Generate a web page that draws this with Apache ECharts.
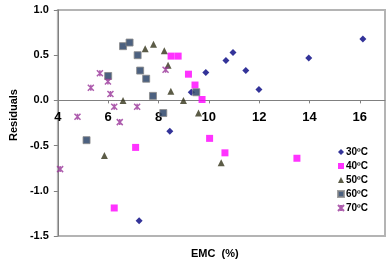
<!DOCTYPE html>
<html>
<head>
<meta charset="utf-8">
<script src="https://cdn.jsdelivr.net/npm/echarts@6/dist/echarts.min.js"></script>
<style>
    html, body { margin: 0; padding: 0; background: #fff; }
    #chart { width: 387px; height: 263px; }
</style>
</head>
<body>
<div id="chart"></div>
<script>
// residuals vs EMC, one list per temperature
const t30 = [[9.3, 0.09], [9.88, 0.31], [10.68, 0.44], [10.96, 0.53], [11.47, 0.33], [11.99, 0.12],
    [13.97, 0.47], [16.12, 0.68], [8.45, -0.34], [7.23, -1.33]]
const t40 = [[8.5, 0.49], [8.78, 0.49], [9.19, 0.29], [9.45, 0.17], [9.73, 0.01], [7.09, -0.52],
    [6.24, -1.19], [10.03, -0.42], [10.64, -0.58], [13.5, -0.64]]
const t50 = [[7.47, 0.57], [7.8, 0.62], [8.23, 0.55], [8.38, 0.39], [8.49, 0.1], [8.99, 0.0],
    [6.59, 0.0], [9.59, -0.14], [5.85, -0.61], [10.49, -0.69]]
const t60 = [[6.59, 0.6], [6.85, 0.64], [7.17, 0.5], [7.27, 0.33], [7.51, 0.24], [7.78, 0.05],
    [6.0, 0.27], [8.19, -0.14], [9.5, 0.09], [5.14, -0.44]]
const t70 = [[5.67, 0.3], [5.31, 0.14], [5.99, 0.21], [6.09, 0.07], [6.24, -0.07], [6.46, -0.24],
    [7.15, -0.07], [8.28, 0.34], [4.78, -0.18], [4.09, -0.76]]
const seriesNames = ['30ºC', '40ºC', '50ºC', '60ºC', '70ºC']

const font = 'Arial, "Liberation Sans", sans-serif'
const star = 'path://M0,0L10,10M10,0L0,10M5,0L5,10'

let myChart = echarts.init(document.getElementById('chart'))

function scatter(name, data, symbol, size, style) {
    return { name: name, type: 'scatter', data: data, symbol: symbol, symbolSize: size, itemStyle: style }
}

myChart.setOption({
    animation: false,
    grid: {
        left: 47, right: 2, top: 10, bottom: 27,
        show: true, borderColor: '#b4b4b4', borderWidth: 2
    },
    title: {
        text: 'EMC  (%)', left: 186, top: 243,
        textStyle: { fontFamily: font, fontSize: 11, fontWeight: 'bold', color: '#000' }
    },
    legend: {
        orient: 'vertical', left: 332, top: 142,
        itemWidth: 6, itemHeight: 6, itemGap: 4,
        data: seriesNames,
        textStyle: { fontFamily: font, fontSize: 10, fontWeight: 'bold', color: '#000', padding: [0, 0, 0, -3] }
    },
    xAxis: {
        type: 'value', min: 4, max: 17, interval: 2,
        axisLine: { onZero: true, lineStyle: { color: '#808080', width: 1 } },
        axisTick: { show: true, length: 3, lineStyle: { color: '#808080' } },
        splitLine: { show: false },
        axisLabel: {
            showMaxLabel: false, margin: -125,
            fontFamily: font, fontSize: 13, fontWeight: 'bold', color: '#000'
        }
    },
    yAxis: {
        type: 'value', min: -1.5, max: 1.0, interval: 0.5,
        name: 'Residuals', nameLocation: 'middle', nameRotate: 90, nameGap: 33,
        nameTextStyle: { fontFamily: font, fontSize: 11, fontWeight: 'bold', color: '#000', padding: [0, 0, 0, 16] },
        axisLine: { show: true, lineStyle: { color: '#808080', width: 1 } },
        axisTick: { show: true, length: 4, lineStyle: { color: '#808080' } },
        splitLine: { show: false },
        axisLabel: {
            margin: 9, formatter: v => v.toFixed(1),
            fontFamily: font, fontSize: 11, fontWeight: 'bold', color: '#000'
        }
    },
    series: [
        scatter(seriesNames[0], t30, 'diamond', 7, { color: '#000080' }),
        scatter(seriesNames[1], t40, 'rect', 7, { color: '#ff00ff' }),
        scatter(seriesNames[2], t50, 'triangle', 7, { color: '#333319' }),
        scatter(seriesNames[3], t60, 'rect', 7, { color: '#1f3a60', borderColor: '#8a8a8a', borderWidth: 1 }),
        scatter(seriesNames[4], t70, star, 6, { color: 'transparent', borderColor: '#993399', borderWidth: 1.5 })
    ]
})
</script>
</body>
</html>
